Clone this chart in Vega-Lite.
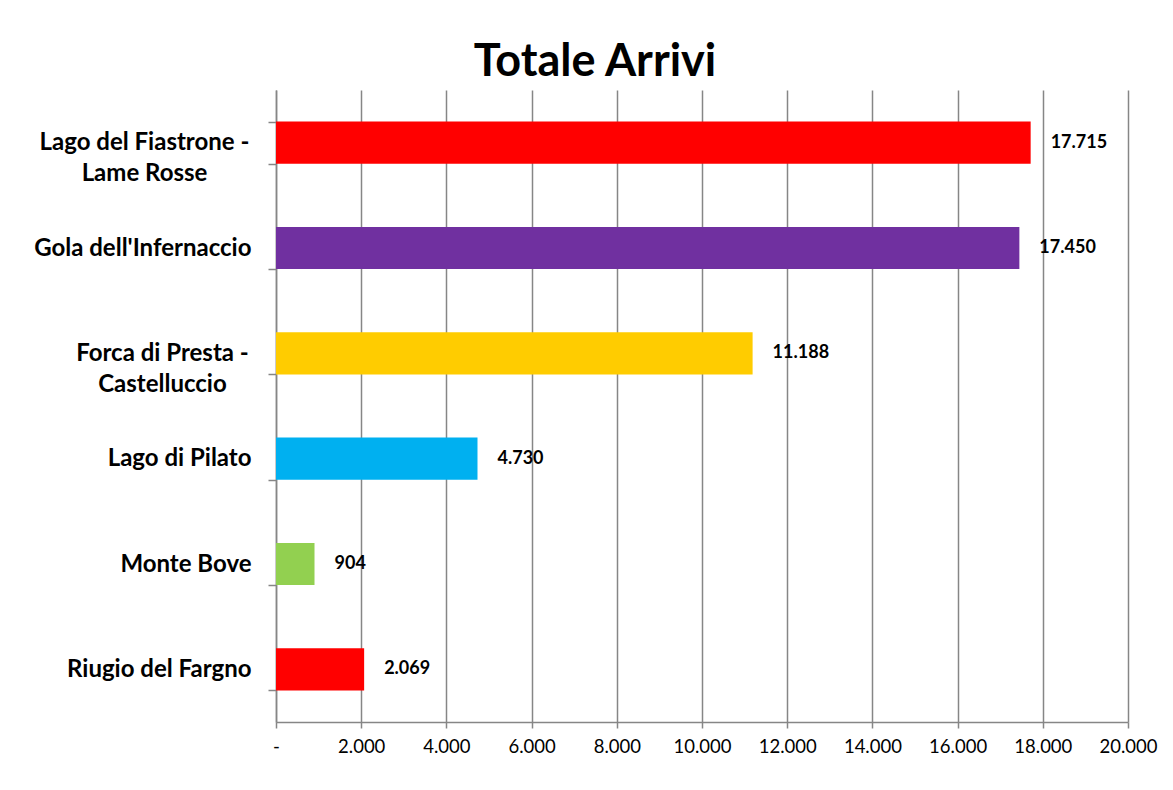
{
  "$schema": "https://vega.github.io/schema/vega-lite/v6.json",
  "autosize": "none",
  "width": 852,
  "height": 632,
  "padding": {"left": 276, "top": 90, "right": 45, "bottom": 68},
  "background": "white",
  "title": {
    "text": "Totale Arrivi",
    "fontSize": 45,
    "font": "Lato",
    "fontWeight": "bold",
    "color": "black",
    "anchor": "middle",
    "dx": -107,
    "offset": -7
  },
  "data": {
    "values": [
      {"luogo": "Lago del Fiastrone - Lame Rosse", "arrivi": 17715},
      {"luogo": "Gola dell'Infernaccio", "arrivi": 17450},
      {"luogo": "Forca di Presta - Castelluccio", "arrivi": 11188},
      {"luogo": "Lago di Pilato", "arrivi": 4730},
      {"luogo": "Monte Bove", "arrivi": 904},
      {"luogo": "Riugio del Fargno", "arrivi": 2069}
    ]
  },
  "encoding": {
    "y": {
      "field": "luogo",
      "type": "nominal",
      "sort": null,
      "scale": {"paddingInner": 0.6, "paddingOuter": 0.3},
      "axis": {
        "title": null,
        "labelFont": "Lato",
        "labelFontSize": 24,
        "labelFontWeight": "bold",
        "labelColor": "black",
        "labelAlign": {"condition": {"test": "indexof(['Lago del Fiastrone - Lame Rosse', 'Forca di Presta - Castelluccio'], datum.value) >= 0", "value": "center"}, "value": "right"},
        "labelPadding": {"condition": [
          {"test": "datum.value == 'Lago del Fiastrone - Lame Rosse'", "value": 124},
          {"test": "datum.value == 'Forca di Presta - Castelluccio'", "value": 106}
        ], "value": 17},
        "labelLineHeight": 31,
        "labelLimit": 300,
        "tickBand": "extent",
        "tickSize": 8,
        "tickColor": "#868686",
        "tickWidth": 1.5,
        "domainColor": "#868686",
        "domainWidth": 1.5,
        "labelExpr": "datum.label == 'Lago del Fiastrone - Lame Rosse' ? ['Lago del Fiastrone -', 'Lame Rosse'] : datum.label == 'Forca di Presta - Castelluccio' ? ['Forca di Presta -', 'Castelluccio'] : datum.label"
      }
    }
  },
  "layer": [
    {
      "mark": {"type": "bar"},
      "encoding": {
        "x": {
          "field": "arrivi",
          "type": "quantitative",
          "scale": {"domain": [0, 20000], "nice": false},
          "axis": {
            "title": null,
            "values": [0, 2000, 4000, 6000, 8000, 10000, 12000, 14000, 16000, 18000, 20000],
            "labelExpr": "datum.value == 0 ? '-' : format(datum.value, ',')",
            "labelFont": "Lato",
            "labelFontSize": 18.5,
            "labelColor": "black",
            "labelPadding": 9,
            "labelOverlap": false,
            "labelFlush": false,
            "labelBound": false,
            "tickSize": 6,
            "tickColor": "#868686",
            "tickWidth": 1.5,
            "domainColor": "#868686",
            "domainWidth": 1.5,
            "grid": true,
            "gridColor": "#868686",
            "gridWidth": 1.5
          }
        },
        "color": {
          "field": "luogo",
          "type": "nominal",
          "legend": null,
          "scale": {
            "domain": ["Lago del Fiastrone - Lame Rosse", "Gola dell'Infernaccio", "Forca di Presta - Castelluccio", "Lago di Pilato", "Monte Bove", "Riugio del Fargno"],
            "range": ["#FF0000", "#7030A0", "#FFCC00", "#00B0F0", "#92D050", "#FF0000"]
          }
        }
      }
    },
    {
      "mark": {"type": "text", "align": "left", "dx": 20, "font": "Lato", "fontSize": 18, "fontWeight": "bold", "color": "black"},
      "encoding": {
        "x": {"field": "arrivi", "type": "quantitative"},
        "text": {"field": "arrivi", "type": "quantitative", "format": ","}
      }
    }
  ],
  "config": {
    "view": {"stroke": null},
    "locale": {"number": {"decimal": ",", "thousands": ".", "grouping": [3], "currency": ["€", ""]}}
  }
}
